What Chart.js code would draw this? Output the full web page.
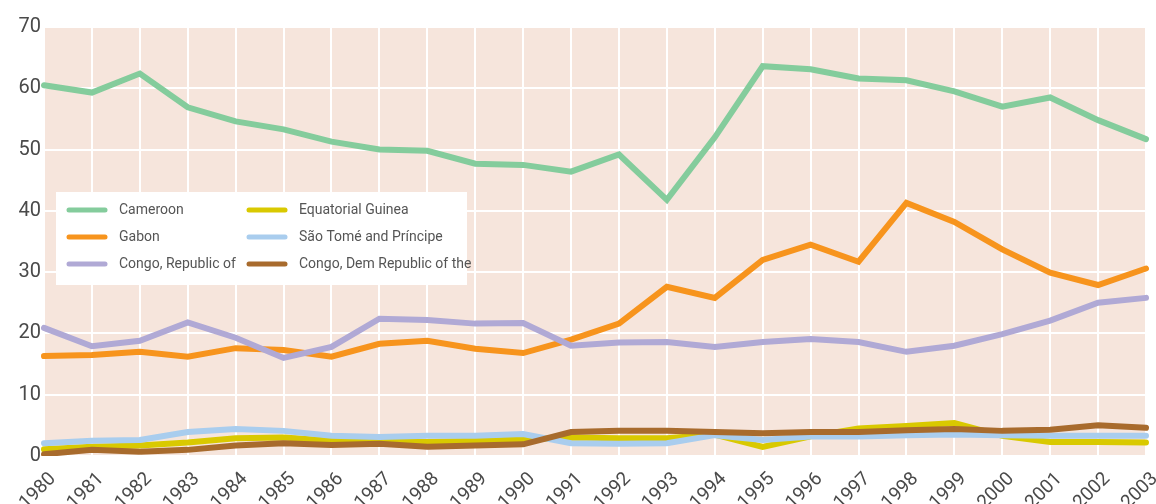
<!DOCTYPE html>
<html>
<head>
<meta charset="utf-8">
<script src="https://cdn.jsdelivr.net/npm/chart.js@4.4.1/dist/chart.umd.min.js"></script>
<style>
    html, body { margin: 0; padding: 0; background: #fff; }
    #wrap { width: 1156px; height: 504px; }
</style>
</head>
<body>
<div id="wrap"><canvas id="myChart" width="1156" height="504"></canvas></div>
<script>
const years = ['1980', '1981', '1982', '1983', '1984', '1985', '1986', '1987', '1988', '1989', '1990', '1991',
    '1992', '1993', '1994', '1995', '1996', '1997', '1998', '1999', '2000', '2001', '2002', '2003'];

const cameroon = [60.5, 59.3, 62.4, 56.9, 54.6, 53.3, 51.3, 50.0, 49.8, 47.7, 47.5, 46.4,
    49.2, 41.8, 52.0, 63.6, 63.1, 61.6, 61.3, 59.5, 57.0, 58.5, 54.8, 51.7];
const gabon = [16.3, 16.5, 17.0, 16.2, 17.6, 17.3, 16.2, 18.3, 18.8, 17.5, 16.8, 19.0,
    21.6, 27.6, 25.8, 32.0, 34.5, 31.7, 41.3, 38.2, 33.7, 29.9, 27.9, 30.6];
const congoRep = [20.9, 17.9, 18.8, 21.8, 19.3, 16.0, 17.8, 22.4, 22.2, 21.6, 21.7, 18.0,
    18.5, 18.6, 17.8, 18.6, 19.1, 18.6, 17.0, 18.0, 19.9, 22.1, 25.0, 25.8];
const eqGuinea = [1.1, 1.5, 1.7, 2.2, 2.9, 3.0, 2.5, 2.3, 2.3, 2.5, 2.7, 3.0,
    2.9, 2.9, 3.5, 1.5, 3.2, 4.5, 4.9, 5.4, 3.3, 2.3, 2.3, 2.2];
const saoTome = [2.1, 2.5, 2.6, 3.9, 4.4, 4.1, 3.3, 3.1, 3.3, 3.3, 3.6, 2.1,
    2.0, 2.1, 3.4, 2.6, 3.2, 3.2, 3.4, 3.5, 3.4, 3.3, 3.3, 3.3];
const congoDem = [0.3, 1.0, 0.7, 1.0, 1.7, 2.1, 1.8, 2.0, 1.5, 1.7, 1.9, 3.9,
    4.1, 4.1, 3.9, 3.7, 3.9, 3.9, 4.2, 4.4, 4.1, 4.3, 5.0, 4.6];

const yTicks = [0, 10, 20, 30, 40, 50, 60, 70];

const names = ['Cameroon', 'Gabon', 'Congo, Republic of', 'Equatorial Guinea', 'São Tomé and Príncipe', 'Congo, Dem Republic of the'];
const colors = ['#84cc9c', '#f7941d', '#b0a9d5', '#d9c900', '#a9cdee', '#a86b2d'];
const series = [cameroon, gabon, congoRep, eqGuinea, saoTome, congoDem];

const textColor = '#4a4a4a';
const fontFamily = 'Roboto, "Open Sans", sans-serif';

// pink plot background
const plotBackground = {
    id: 'plotBackground',
    beforeDraw(chart) {
        const a = chart.chartArea;
        const ctx = chart.ctx;
        ctx.save();
        ctx.fillStyle = '#f6e5dc';
        ctx.fillRect(a.left, a.top, a.right - a.left, a.bottom - a.top);
        ctx.restore();
    }
};

// two column legend box sitting inside the plot
const boxLegend = {
    id: 'boxLegend',
    afterDatasetsDraw(chart) {
        const ctx = chart.ctx;
        const x0 = 56, y0 = 192, w = 411, h = 93;
        ctx.save();
        ctx.fillStyle = '#ffffff';
        ctx.fillRect(x0, y0, w, h);
        ctx.font = '14px ' + fontFamily;
        ctx.textBaseline = 'middle';
        ctx.lineCap = 'round';
        ctx.lineWidth = 5;
        chart.data.datasets.forEach((ds, i) => {
            const col = Math.floor(i / 3);
            const row = i % 3;
            const lx = x0 + 13 + col * 180;
            const ly = y0 + 18 + row * 27;
            ctx.strokeStyle = ds.borderColor;
            ctx.beginPath();
            ctx.moveTo(lx, ly);
            ctx.lineTo(lx + 36, ly);
            ctx.stroke();
            ctx.fillStyle = '#555555';
            ctx.fillText(ds.label, lx + 50, ly);
        });
        ctx.restore();
    }
};

let ctx = document.getElementById('myChart').getContext('2d');
const myChart = new Chart(ctx, {
    type: 'line',
    data: {
        labels: years,
        datasets: series.map((vals, i) => ({
            label: names[i],
            data: vals,
            borderColor: colors[i],
            backgroundColor: colors[i],
            borderWidth: 6,
            pointRadius: 0,
            tension: 0,
            borderCapStyle: 'round',
            order: series.length - i
        }))
    },
    options: {
        responsive: false,
        animation: false,
        events: [],
        layout: {
            padding: { top: 27, right: 10, left: 0, bottom: 0 }
        },
        plugins: {
            legend: { display: false },
            tooltip: { enabled: false }
        },
        scales: {
            x: {
                grid: { color: '#ffffff', lineWidth: 2, drawTicks: false },
                border: { display: false },
                ticks: {
                    color: textColor,
                    font: { family: fontFamily, size: 19 },
                    minRotation: 45,
                    maxRotation: 45,
                    autoSkip: false,
                    padding: 12,
                    labelOffset: 9
                },
                afterFit(scale) {
                    scale.height = 48;
                    scale.paddingLeft = 0;
                    scale.paddingRight = 0;
                }
            },
            y: {
                min: 0,
                max: 70,
                grid: { color: '#ffffff', lineWidth: 2, drawTicks: false },
                border: { display: false },
                afterBuildTicks(scale) { scale.ticks = yTicks.map(v => ({ value: v })); },
                ticks: {
                    color: textColor,
                    font: { family: fontFamily, size: 20 },
                    padding: 3
                },
                afterFit(scale) { scale.width = 44; }
            }
        }
    },
    plugins: [plotBackground, boxLegend]
});
</script>
</body>
</html>
